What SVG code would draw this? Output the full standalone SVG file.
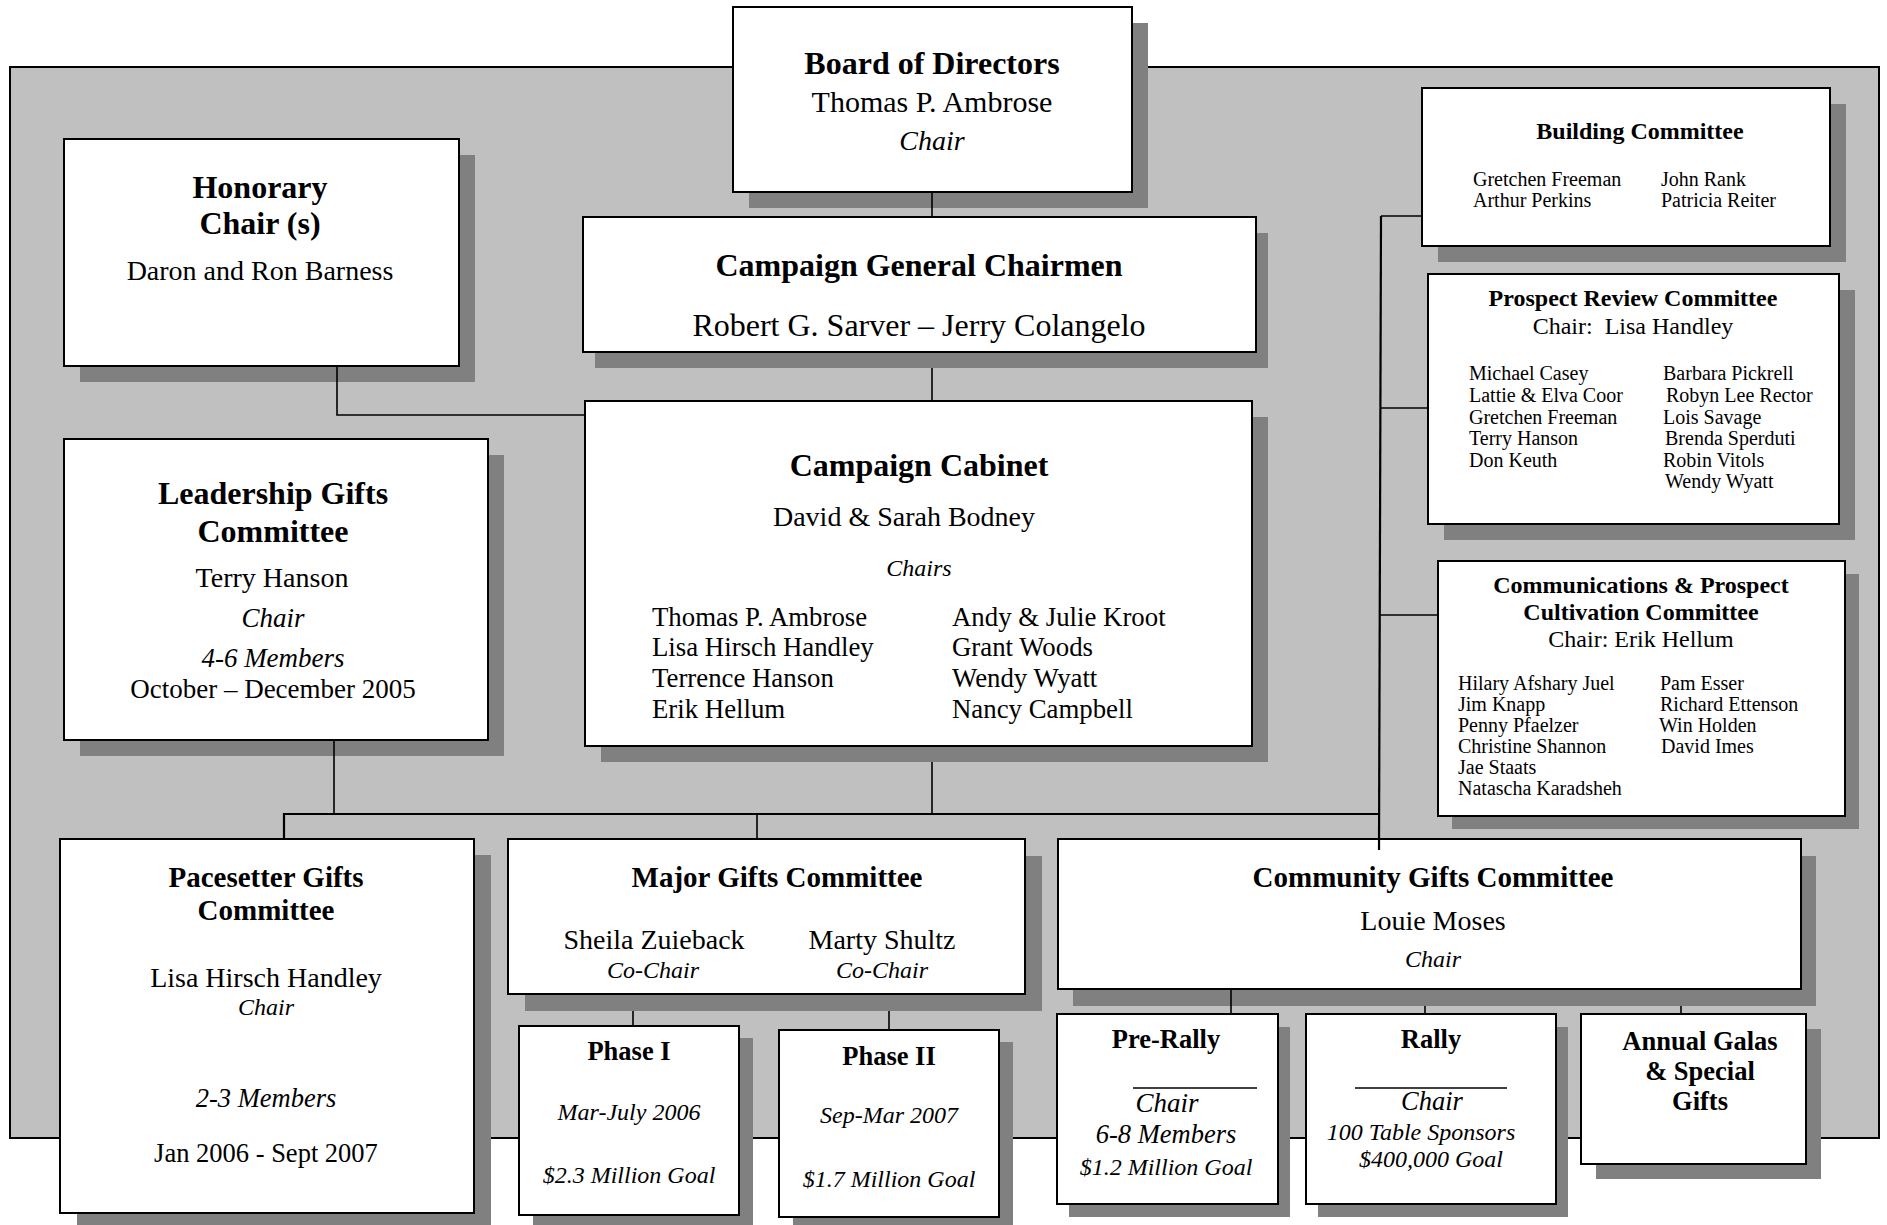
<svg xmlns="http://www.w3.org/2000/svg" width="1887" height="1225" viewBox="0 0 1887 1225">
<style>
.bg{fill:#c0c0c0;stroke:#000;stroke-width:2}
.sh{fill:#808080}
.bx{fill:#fff;stroke:#000;stroke-width:2}
.ln{stroke:#000;stroke-width:1.6;fill:none}
.bus{stroke:#000;stroke-width:2.2;fill:none}
text{font-family:"Liberation Serif","Times New Roman",serif;fill:#000}
.c{text-anchor:middle}
.b{font-weight:bold}
.i{font-style:italic}
.s32{font-size:32px}.s30{font-size:30px}.s29{font-size:29px}.s28{font-size:28px}.s27{font-size:27px}.s26{font-size:26.5px}.s268{font-size:26.8px}.s24{font-size:24px}.s20{font-size:20px}
</style>
<rect class="bg" x="10" y="67" width="1869" height="1071"/>

<g id="board">
<rect class="sh" x="749" y="23" width="399" height="185"/>
<rect class="bx" x="733" y="7" width="399" height="185"/>
<text class="c b s32" x="932" y="74">Board of Directors</text>
<text class="c s30" x="932" y="112">Thomas P. Ambrose</text>
<text class="c i s28" x="932" y="150">Chair</text>
</g>

<g id="general">
<rect class="sh" x="595" y="233" width="673" height="135"/>
<rect class="bx" x="583" y="217" width="673" height="135"/>
<text class="c b s32" x="919" y="276">Campaign General Chairmen</text>
<text class="c s32" x="919" y="336">Robert G. Sarver – Jerry Colangelo</text>
</g>

<g id="honorary">
<rect class="sh" x="80" y="155" width="395" height="227"/>
<rect class="bx" x="64" y="139" width="395" height="227"/>
<text class="c b s32" x="260" y="198">Honorary</text>
<text class="c b s32" x="260" y="234">Chair (s)</text>
<text class="c s28" x="260" y="280">Daron and Ron Barness</text>
</g>

<g id="cabinet">
<rect class="sh" x="601" y="417" width="667" height="345"/>
<rect class="bx" x="585" y="401" width="667" height="345"/>
<text class="c b s32" x="919" y="476">Campaign Cabinet</text>
<text class="c s28" x="904" y="526">David &amp; Sarah Bodney</text>
<text class="c i s24" x="919" y="576">Chairs</text>
<text class="s268" x="652" y="626">Thomas P. Ambrose</text>
<text class="s268" x="652" y="656">Lisa Hirsch Handley</text>
<text class="s268" x="652" y="687">Terrence Hanson</text>
<text class="s268" x="652" y="718">Erik Hellum</text>
<text class="s268" x="952" y="626">Andy &amp; Julie Kroot</text>
<text class="s268" x="952" y="656">Grant Woods</text>
<text class="s268" x="952" y="687">Wendy Wyatt</text>
<text class="s268" x="952" y="718">Nancy Campbell</text>
</g>

<g id="leadership">
<rect class="sh" x="80" y="455" width="424" height="301"/>
<rect class="bx" x="64" y="439" width="424" height="301"/>
<text class="c b s32" x="273" y="504">Leadership Gifts</text>
<text class="c b s32" x="273" y="542">Committee</text>
<text class="c s28" x="272" y="587">Terry Hanson</text>
<text class="c i s27" x="273" y="627">Chair</text>
<text class="c i s27" x="273" y="667">4-6 Members</text>
<text class="c s27" x="273" y="698">October – December 2005</text>
</g>

<g id="building">
<rect class="sh" x="1438" y="104" width="408" height="158"/>
<rect class="bx" x="1422" y="88" width="408" height="158"/>
<text class="c b s24" x="1640" y="139">Building Committee</text>
<text class="s20" x="1473" y="186">Gretchen Freeman</text>
<text class="s20" x="1473" y="207">Arthur Perkins</text>
<text class="s20" x="1661" y="186">John Rank</text>
<text class="s20" x="1661" y="207">Patricia Reiter</text>
</g>

<g id="prospect">
<rect class="sh" x="1444" y="290" width="411" height="250"/>
<rect class="bx" x="1428" y="274" width="411" height="250"/>
<text class="c b s24" x="1633" y="306">Prospect Review Committee</text>
<text class="c s24" x="1633" y="334">Chair:&#160; Lisa Handley</text>
<text class="s20" x="1469" y="380">Michael Casey</text>
<text class="s20" x="1469" y="402">Lattie &amp; Elva Coor</text>
<text class="s20" x="1469" y="424">Gretchen Freeman</text>
<text class="s20" x="1469" y="445">Terry Hanson</text>
<text class="s20" x="1469" y="467">Don Keuth</text>
<text class="s20" x="1663" y="380">Barbara Pickrell</text>
<text class="s20" x="1666" y="402">Robyn Lee Rector</text>
<text class="s20" x="1663" y="424">Lois Savage</text>
<text class="s20" x="1665" y="445">Brenda Sperduti</text>
<text class="s20" x="1663" y="467">Robin Vitols</text>
<text class="s20" x="1665" y="488">Wendy Wyatt</text>
</g>

<g id="communications">
<rect class="sh" x="1452" y="574" width="407" height="255"/>
<rect class="bx" x="1438" y="561" width="407" height="255"/>
<text class="c b s24" x="1641" y="593">Communications &amp; Prospect</text>
<text class="c b s24" x="1641" y="620">Cultivation Committee</text>
<text class="c s24" x="1641" y="647">Chair: Erik Hellum</text>
<text class="s20" x="1458" y="690">Hilary Afshary Juel</text>
<text class="s20" x="1458" y="711">Jim Knapp</text>
<text class="s20" x="1458" y="732">Penny Pfaelzer</text>
<text class="s20" x="1458" y="753">Christine Shannon</text>
<text class="s20" x="1458" y="774">Jae Staats</text>
<text class="s20" x="1458" y="795">Natascha Karadsheh</text>
<text class="s20" x="1660" y="690">Pam Esser</text>
<text class="s20" x="1660" y="711">Richard Ettenson</text>
<text class="s20" x="1659" y="732">Win Holden</text>
<text class="s20" x="1661" y="753">David Imes</text>
</g>

<g id="pacesetter">
<rect class="sh" x="77" y="855" width="414" height="374"/>
<rect class="bx" x="60" y="839" width="414" height="374"/>
<text class="c b s29" x="266" y="887">Pacesetter Gifts</text>
<text class="c b s29" x="266" y="920">Committee</text>
<text class="c s28" x="266" y="987">Lisa Hirsch Handley</text>
<text class="c i s24" x="266" y="1015">Chair</text>
<text class="c i s26" x="266" y="1107">2-3 Members</text>
<text class="c s26" x="266" y="1162">Jan 2006 - Sept 2007</text>
</g>

<g id="major">
<rect class="sh" x="525" y="856" width="517" height="155"/>
<rect class="bx" x="508" y="839" width="517" height="155"/>
<text class="c b s29" x="777" y="887">Major Gifts Committee</text>
<text class="c s28" x="654" y="949">Sheila Zuieback</text>
<text class="c i s24" x="653" y="978">Co-Chair</text>
<text class="c s28" x="882" y="949">Marty Shultz</text>
<text class="c i s24" x="882" y="978">Co-Chair</text>
</g>

<g id="phase1">
<rect class="sh" x="533" y="1038" width="220" height="189"/>
<rect class="bx" x="519" y="1026" width="220" height="189"/>
<text class="c b s26" x="629" y="1060">Phase I</text>
<text class="c i s24" x="629" y="1120">Mar-July 2006</text>
<text class="c i s24" x="629" y="1183">$2.3 Million Goal</text>
</g>

<g id="phase2">
<rect class="sh" x="793" y="1042" width="220" height="187"/>
<rect class="bx" x="779" y="1030" width="220" height="187"/>
<text class="c b s26" x="889" y="1065">Phase II</text>
<text class="c i s24" x="889" y="1123">Sep-Mar 2007</text>
<text class="c i s24" x="889" y="1187">$1.7 Million Goal</text>
</g>

<g id="community">
<rect class="sh" x="1073" y="856" width="743" height="150"/>
<rect class="bx" x="1058" y="839" width="743" height="150"/>
<text class="c b s29" x="1433" y="887">Community Gifts Committee</text>
<text class="c s28" x="1433" y="930">Louie Moses</text>
<text class="c i s24" x="1433" y="967">Chair</text>
</g>

<g id="prerally">
<rect class="sh" x="1069" y="1027" width="221" height="190"/>
<rect class="bx" x="1057" y="1014" width="221" height="190"/>
<text class="c b s26" x="1166" y="1048">Pre-Rally</text>
<line class="ln" x1="1133" y1="1088" x2="1257" y2="1088"/>
<text class="c i s27" x="1167" y="1112">Chair</text>
<text class="c i s26" x="1166" y="1143">6-8 Members</text>
<text class="c i s24" x="1166" y="1175">$1.2 Million Goal</text>
</g>

<g id="rally">
<rect class="sh" x="1318" y="1027" width="250" height="190"/>
<rect class="bx" x="1306" y="1014" width="250" height="190"/>
<text class="c b s26" x="1431" y="1048">Rally</text>
<line class="ln" x1="1355" y1="1088" x2="1507" y2="1088"/>
<text class="c i s26" x="1432" y="1110">Chair</text>
<text class="c i s24" x="1421" y="1140">100 Table Sponsors</text>
<text class="c i s24" x="1431" y="1167">$400,000 Goal</text>
</g>

<g id="galas">
<rect class="sh" x="1596" y="1029" width="225" height="150"/>
<rect class="bx" x="1581" y="1014" width="225" height="150"/>
<text class="c b s26" x="1700" y="1050">Annual Galas</text>
<text class="c b s26" x="1700" y="1080">&amp; Special</text>
<text class="c b s26" x="1700" y="1110">Gifts</text>
</g>

<g id="connectors">
<path class="ln" d="M932 192V217"/>
<path class="ln" d="M932 368V401"/>
<path class="ln" d="M337 366V415H585"/>
<path class="ln" d="M334 740V814"/>
<path class="ln" d="M932 762V814"/>
<path class="bus" d="M284 839V814H1380"/>
<path class="ln" d="M757 814V839"/>
<path class="bus" d="M1381 216L1379 850"/>
<path class="ln" d="M1381 216H1422"/>
<path class="ln" d="M1381 408H1428"/>
<path class="ln" d="M1380 615H1438"/>
<path class="ln" d="M633 1011V1026"/>
<path class="ln" d="M889 1011V1030"/>
<path class="ln" d="M1231 989V1014"/>
<path class="ln" d="M1425 1006V1014"/>
<path class="ln" d="M1681 1006V1014"/>
</g>
</svg>
